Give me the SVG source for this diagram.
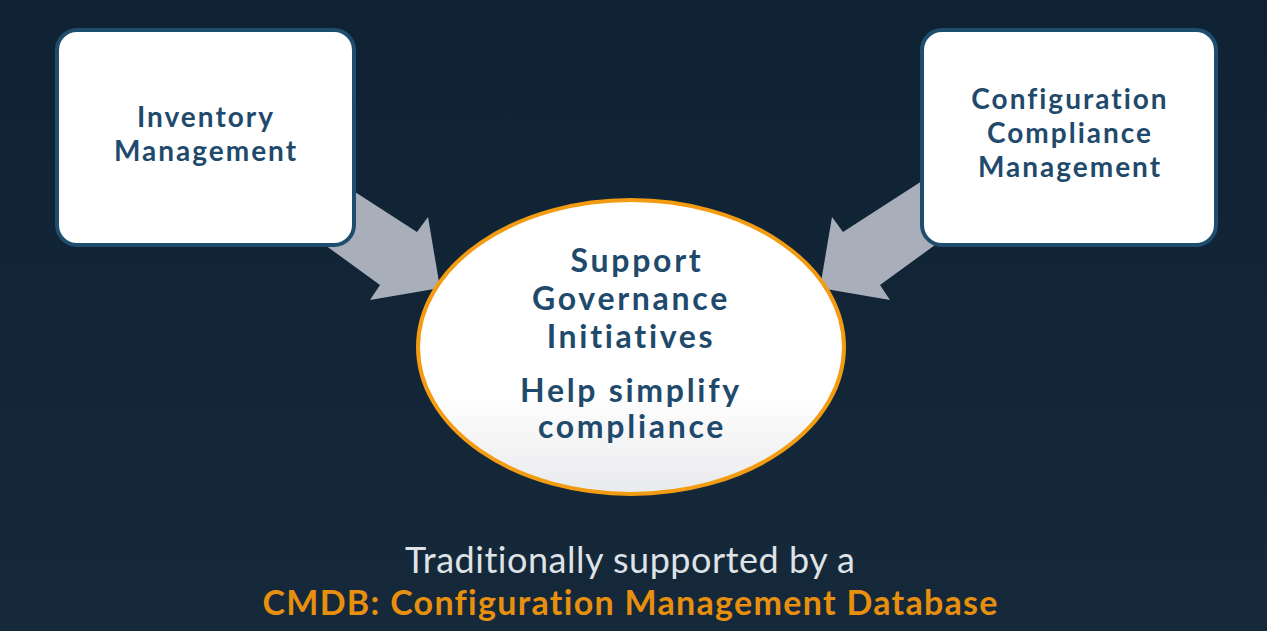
<svg xmlns="http://www.w3.org/2000/svg" width="1267" height="631" viewBox="0 0 1267 631">
<defs>
<linearGradient id="bg" x1="0" y1="0" x2="0" y2="1">
<stop offset="0" stop-color="#0e2234"/>
<stop offset="1" stop-color="#16293a"/>
</linearGradient>
<linearGradient id="ellFill" x1="0" y1="0" x2="0" y2="1">
<stop offset="0" stop-color="#ffffff"/>
<stop offset="0.65" stop-color="#ffffff"/>
<stop offset="1" stop-color="#e9eaec"/>
</linearGradient>
</defs>
<style>
.box{fill:#ffffff;stroke:#1f4d6e;stroke-width:4}
.arrow{fill:#a9afba}
.ntext{font-family:Lato,"Open Sans","Liberation Sans",sans-serif;font-weight:700;fill:#1f4a6c;text-anchor:middle;font-variant-ligatures:none}
.btext{font-size:28px;letter-spacing:2px}
.etext{font-size:32px;letter-spacing:2.7px}
.sub{font-family:Lato,"Liberation Sans",sans-serif;font-size:36px;fill:#dfe2e6;text-anchor:middle;font-variant-ligatures:none}
.cmdb{font-family:Lato,"Liberation Sans",sans-serif;font-size:34px;font-weight:700;fill:#e8900e;text-anchor:middle;font-variant-ligatures:none}
</style>
<rect x="0" y="0" width="1267" height="631" fill="url(#bg)"/>
<g id="connectors">
<polygon class="arrow" points="290,150 417,232 428,217 440,288 370,300 380,285 270,205"/>
<polygon class="arrow" points="970,150 843,232 832,217 820,288 890,300 880,285 990,205"/>
</g>
<g id="inventory">
<rect class="box" x="57" y="30" width="297" height="215" rx="20"/>
<text class="ntext btext" x="206" y="127">Inventory</text>
<text class="ntext btext" x="206" y="161">Management</text>
</g>
<g id="config">
<rect class="box" x="922" y="30" width="294" height="215" rx="20"/>
<text class="ntext btext" x="1070" y="109">Configuration</text>
<text class="ntext btext" x="1070" y="143">Compliance</text>
<text class="ntext btext" x="1070" y="177">Management</text>
</g>
<g id="governance">
<ellipse cx="631" cy="347" rx="213" ry="147" fill="url(#ellFill)" stroke="#f39c12" stroke-width="4"/>
<text class="ntext etext" x="637" y="272">Support</text>
<text class="ntext etext" x="631" y="310">Governance</text>
<text class="ntext etext" x="631" y="348">Initiatives</text>
<text class="ntext etext" x="631" y="402">Help simplify</text>
<text class="ntext etext" x="632" y="438">compliance</text>
</g>
<g id="caption">
<text class="sub" x="630" y="573" textLength="450">Traditionally supported by a</text>
<text class="cmdb" x="630" y="615" textLength="735">CMDB: Configuration Management Database</text>
</g>
</svg>
